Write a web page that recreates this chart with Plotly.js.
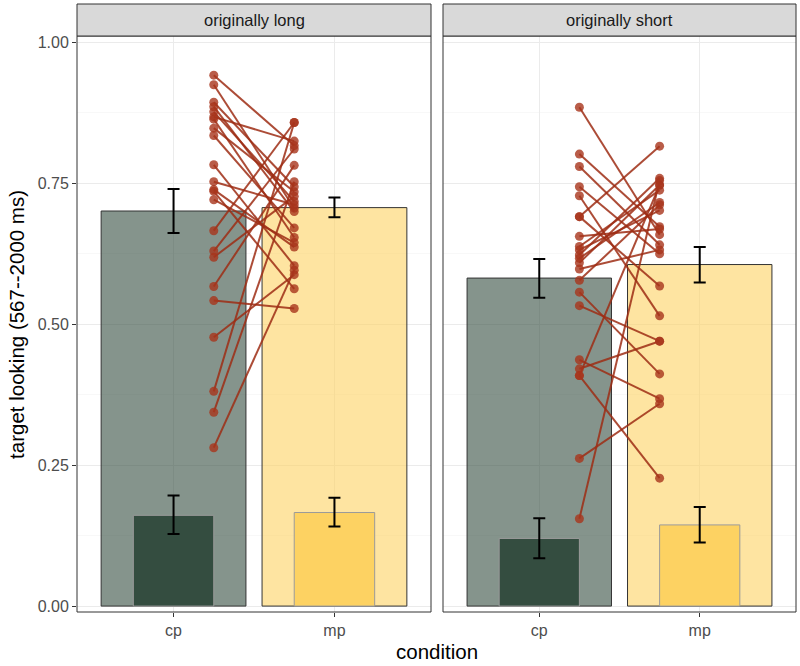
<!DOCTYPE html>
<html>
<head>
<meta charset="utf-8">
<script src="https://cdn.plot.ly/plotly-3.0.1.min.js"></script>
<style>
  html, body { margin: 0; padding: 0; background: #ffffff; }
  #chart { width: 800px; height: 666px; }
</style>
</head>
<body>
<div id="chart"></div>
<script>
// facets and conditions
const panels = ['originally long', 'originally short'];
const conditions = ['cp', 'mp'];

// wide bars: overall target looking, with CI
const longMean = [0.701, 0.707];
const longLo = [0.662, 0.690];
const longHi = [0.740, 0.725];
const shortMean = [0.582, 0.606];
const shortLo = [0.547, 0.574];
const shortHi = [0.616, 0.637];

// narrow inner bars
const longInnerMean = [0.161, 0.166];
const longInnerLo = [0.128, 0.141];
const longInnerHi = [0.196, 0.192];
const shortInnerMean = [0.120, 0.144];
const shortInnerLo = [0.085, 0.113];
const shortInnerHi = [0.156, 0.176];

// participants, cp value paired with mp value
const longCp = [0.942, 0.925, 0.894, 0.886, 0.877, 0.868, 0.864, 0.848, 0.835, 0.783, 0.753, 0.739,
                0.736, 0.721, 0.666, 0.630, 0.619, 0.567, 0.542, 0.477, 0.381, 0.344, 0.281];
const longMp = [0.817, 0.706, 0.744, 0.700, 0.718, 0.825, 0.654, 0.735, 0.671, 0.604, 0.712, 0.637,
                0.563, 0.645, 0.858, 0.811, 0.727, 0.782, 0.528, 0.588, 0.858, 0.753, 0.596];
const shortCp = [0.885, 0.802, 0.780, 0.744, 0.728, 0.691, 0.691, 0.656, 0.638, 0.632, 0.623, 0.617,
                 0.609, 0.598, 0.578, 0.557, 0.533, 0.437, 0.421, 0.409, 0.409, 0.262, 0.155];
const shortMp = [0.659, 0.673, 0.641, 0.625, 0.515, 0.568, 0.816, 0.669, 0.738, 0.702, 0.759, 0.716,
                 0.747, 0.632, 0.712, 0.412, 0.470, 0.368, 0.470, 0.227, 0.747, 0.359, 0.755];

const FONT = 'Liberation Sans, Arial, sans-serif';
const wideColors = ['rgba(52,77,64,0.6)', 'rgba(253,210,98,0.6)'];
const innerColors = ['#344d40', '#fdd262'];
const xPos = conditions.map((c, i) => i + 1);

function barTrace(mean, lo, hi, width, colors, lineColor, xa) {
  return {
    type: 'bar', x: xPos, y: mean, width: width, xaxis: xa, yaxis: xa === 'x' ? 'y' : 'y2',
    marker: { color: colors, line: { color: lineColor, width: 1 } },
    error_y: {
      type: 'data', symmetric: false,
      array: mean.map((m, i) => hi[i] - m),
      arrayminus: mean.map((m, i) => m - lo[i]),
      color: '#000000', thickness: 2, width: 6
    },
    hoverinfo: 'skip', showlegend: false
  };
}

function pairTrace(cp, mp, xa) {
  const xs = [], ys = [];
  cp.forEach((v, i) => {
    xs.push(1.25, 1.75, null);
    ys.push(v, mp[i], null);
  });
  return {
    type: 'scatter', mode: 'lines+markers', x: xs, y: ys, xaxis: xa, yaxis: xa === 'x' ? 'y' : 'y2',
    line: { color: 'rgba(158,45,20,0.85)', width: 2 },
    marker: { color: 'rgba(168,52,28,0.8)', size: 9 },
    hoverinfo: 'skip', showlegend: false
  };
}

const traces = [
  barTrace(longMean, longLo, longHi, 0.9, wideColors, '#333333', 'x'),
  barTrace(shortMean, shortLo, shortHi, 0.9, wideColors, '#333333', 'x2'),
  barTrace(longInnerMean, longInnerLo, longInnerHi, 0.5, innerColors, '#9a9a9a', 'x'),
  barTrace(shortInnerMean, shortInnerLo, shortInnerHi, 0.5, innerColors, '#9a9a9a', 'x2'),
  pairTrace(longCp, longMp, 'x'),
  pairTrace(shortCp, shortMp, 'x2')
];

const xBase = {
  range: [0.4, 2.6], tickvals: xPos, ticktext: conditions,
  showgrid: true, gridcolor: '#ebebeb', gridwidth: 1, zeroline: false,
  ticks: 'outside', ticklen: 4, tickcolor: '#333333', tickwidth: 1,
  tickfont: { family: FONT, size: 16, color: '#4d4d4d' }, showline: false
};
const yBase = {
  range: [-0.0105, 1.0115], tickvals: [0, 0.25, 0.5, 0.75, 1], tickformat: '.2f',
  showgrid: true, gridcolor: '#ebebeb', gridwidth: 1, zeroline: false,
  minor: { tickvals: [0.125, 0.375, 0.625, 0.875], showgrid: true, gridcolor: '#f4f4f4', gridwidth: 0.6 },
  ticks: 'outside', ticklen: 4, tickcolor: '#333333', tickwidth: 1,
  tickfont: { family: FONT, size: 16, color: '#4d4d4d' }, showline: false
};

const stripTop = 1 + 32 / 576;
const shapes = [], annotations = [];
['x', 'x2'].forEach((xa, i) => {
  shapes.push({
    type: 'rect', xref: xa + ' domain', yref: 'paper', x0: 0, x1: 1, y0: 0, y1: 1,
    line: { color: '#333333', width: 1 }, fillcolor: 'rgba(0,0,0,0)', layer: 'above'
  });
  shapes.push({
    type: 'rect', xref: xa + ' domain', yref: 'paper', x0: 0, x1: 1, y0: 1, y1: stripTop,
    line: { color: '#333333', width: 1 }, fillcolor: '#d9d9d9', layer: 'above'
  });
  annotations.push({
    text: panels[i], xref: xa + ' domain', yref: 'paper', x: 0.5, y: (1 + stripTop) / 2,
    showarrow: false, xanchor: 'center', yanchor: 'middle',
    font: { family: FONT, size: 16.5, color: '#1a1a1a' }
  });
});
annotations.push({
  text: 'condition', xref: 'paper', yref: 'paper', x: 0.5, y: -0.068,
  showarrow: false, xanchor: 'center', yanchor: 'middle',
  font: { family: FONT, size: 20.5, color: '#000000' }
});
annotations.push({
  text: 'target looking (567--2000 ms)', xref: 'paper', yref: 'paper', x: -0.085, y: 0.5,
  textangle: -90, showarrow: false, xanchor: 'center', yanchor: 'middle',
  font: { family: FONT, size: 20.5, color: '#000000' }
});

const layout = {
  width: 800, height: 666,
  margin: { l: 77, r: 4, t: 36, b: 54 },
  paper_bgcolor: '#ffffff', plot_bgcolor: '#ffffff',
  barmode: 'overlay', showlegend: false,
  xaxis: Object.assign({}, xBase, { domain: [0, 354 / 719], anchor: 'y' }),
  xaxis2: Object.assign({}, xBase, { domain: [366 / 719, 1], anchor: 'y2' }),
  yaxis: Object.assign({}, yBase, { anchor: 'x' }),
  yaxis2: Object.assign({}, yBase, { anchor: 'x2', matches: 'y', showticklabels: false, ticks: '' }),
  shapes: shapes,
  annotations: annotations
};

Plotly.newPlot('chart', traces, layout, { displayModeBar: false, staticPlot: true });
</script>
</body>
</html>
